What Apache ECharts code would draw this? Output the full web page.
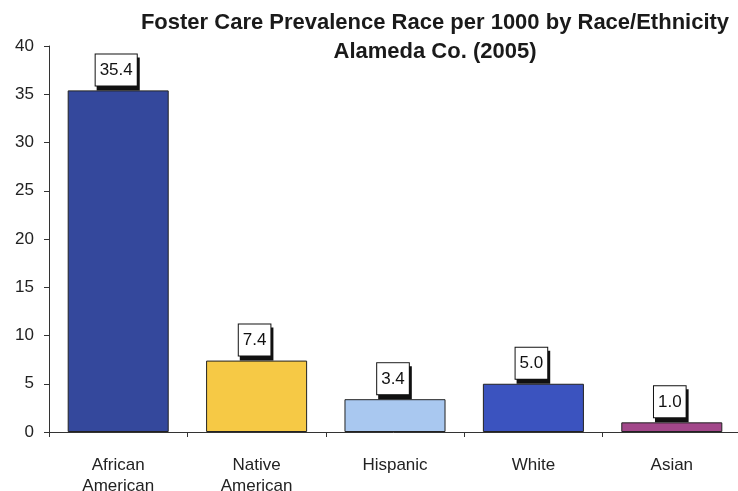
<!DOCTYPE html>
<html>
<head>
<meta charset="utf-8">
<script src="https://cdn.jsdelivr.net/npm/echarts@6/dist/echarts.min.js"></script>
<style>
    html, body { margin: 0; padding: 0; background: #fff; }
    #chart { width: 738px; height: 491px; }
</style>
</head>
<body>
<div id="chart"></div>
<script>
const categories = ['African\nAmerican', 'Native\nAmerican', 'Hispanic', 'White', 'Asian']
const rates = [35.4, 7.4, 3.4, 5.0, 1.0]
const barColors = ['#34489c', '#f6c945', '#a9c8f0', '#3b53bf', '#a2478a']

const myChart = echarts.init(document.getElementById('chart'))

const option = {
    backgroundColor: '#fff',
    textStyle: { fontFamily: 'Liberation Sans, Arial, sans-serif' },
    title: {
        text: 'Foster Care Prevalence Race per 1000 by Race/Ethnicity\nAlameda Co. (2005)',
        left: 430,
        top: 3,
        textAlign: 'center',
        textStyle: {
            fontSize: 22,
            fontWeight: 'bold',
            color: '#1a1a1a',
            lineHeight: 29,
            align: 'center'
        }
    },
    grid: {
        left: 49,
        right: -3,
        top: 46,
        bottom: 59,
        outerBoundsMode: 'none'
    },
    xAxis: {
        type: 'category',
        data: categories,
        axisLine: { lineStyle: { color: '#333', width: 1 } },
        axisTick: { show: true, length: 5, lineStyle: { color: '#333' } },
        axisLabel: {
            color: '#222',
            fontSize: 17,
            lineHeight: 21,
            margin: 23
        }
    },
    yAxis: {
        type: 'value',
        min: 0,
        max: 40,
        interval: 5,
        splitLine: { show: false },
        axisLine: { show: true, lineStyle: { color: '#333', width: 1 } },
        axisTick: { show: true, length: 5, lineStyle: { color: '#333' } },
        axisLabel: { color: '#222', fontSize: 17, margin: 15 }
    },
    series: [
        {
            type: 'bar',
            barCategoryGap: '27%',
            data: rates.map((v, i) => ({
                value: v,
                itemStyle: { color: barColors[i] }
            })),
            itemStyle: { borderColor: '#222', borderWidth: 1 },
            label: {
                show: true,
                position: 'top',
                distance: 5,
                offset: [-2, 0],
                formatter: (p) => p.value.toFixed(1),
                color: '#111',
                fontSize: 17,
                lineHeight: 20,
                backgroundColor: '#fff',
                borderColor: '#111',
                borderWidth: 1,
                padding: [6, 4, 5, 4],
                shadowColor: '#111',
                shadowOffsetX: 2,
                shadowOffsetY: 4,
                shadowBlur: 0
            }
        }
    ]
}

myChart.setOption(option)
</script>
</body>
</html>
